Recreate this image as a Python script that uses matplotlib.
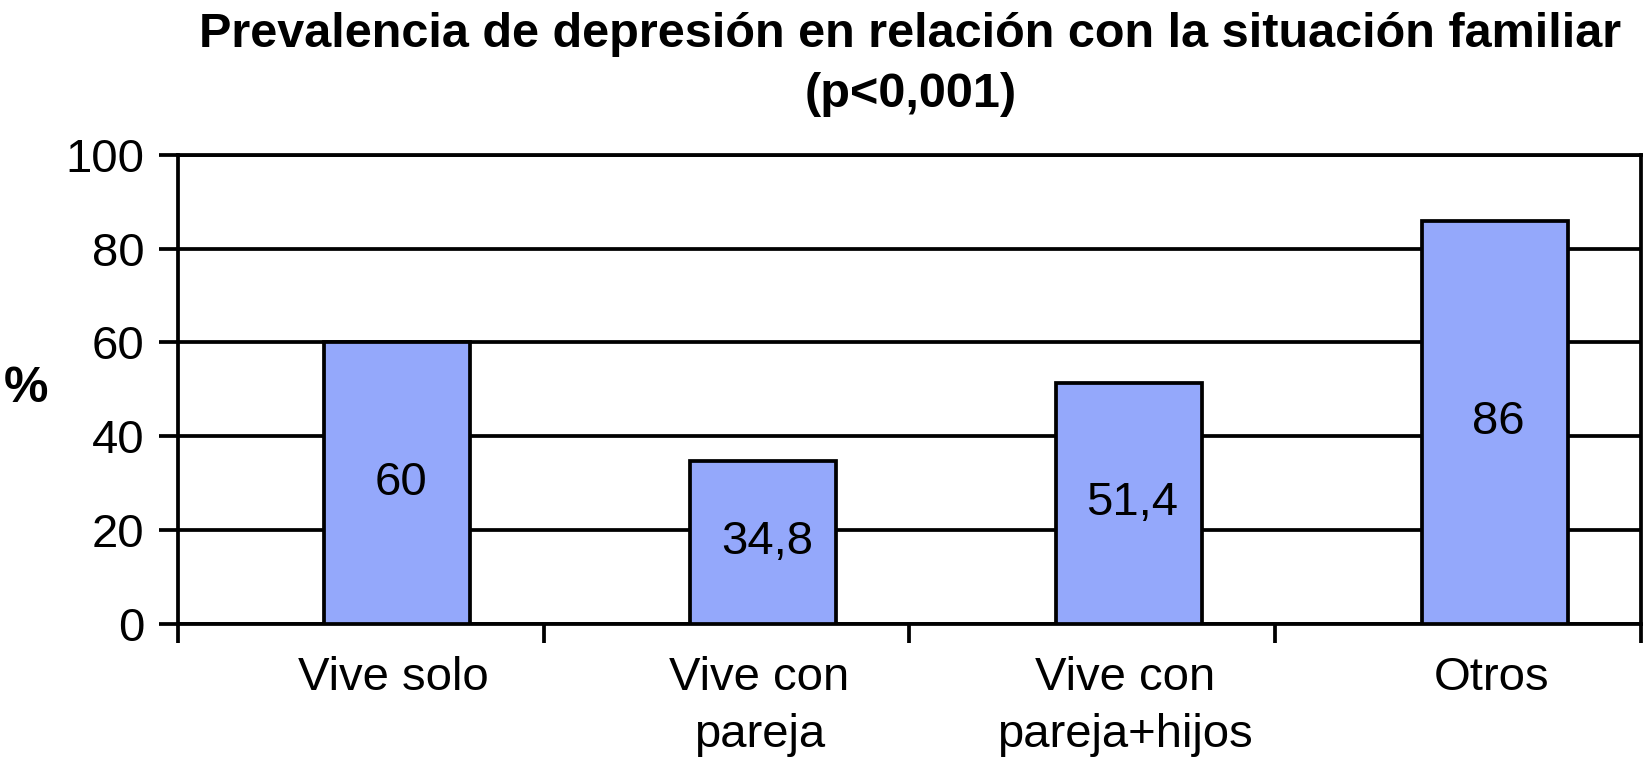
import numpy as np
import matplotlib
matplotlib.use('Agg')
import matplotlib.pyplot as plt

categories = ['Vive solo', 'Vive con\npareja', 'Vive con\npareja+hijos', 'Otros']
values = [60, 34.8, 51.4, 86]
value_labels = ['60', '34,8', '51,4', '86']
y_ticks = [0, 20, 40, 60, 80, 100]

plt.rcParams['font.family'] = ['Liberation Sans', 'DejaVu Sans']

fig = plt.figure(figsize=(16.46, 7.71), dpi=100)
ax = fig.add_axes([0.108, 0.191, 0.889, 0.608])

# bars sit a little right of the category centre, like the original
pos = np.arange(len(values)) + 0.5 + 0.10
ax.bar(pos, values, width=0.40, color='#94a8fb', edgecolor='black', linewidth=2.7, zorder=3)

for x, v, lab in zip(pos, values, value_labels):
    ax.text(x + 0.01, v / 2, lab, ha='center', va='center', fontsize=34, zorder=4)

ax.set_xlim(0, 4)
ax.set_ylim(0, 100)
ax.set_yticks(y_ticks)
ax.set_yticklabels([str(t) for t in y_ticks], fontsize=34)
ax.yaxis.grid(True, color='black', linewidth=2.7, zorder=0)
ax.tick_params(axis='y', length=14, width=2.7, pad=10)

# boundary ticks without labels, category labels at bar positions
ax.set_xticks(np.arange(5), minor=True)
ax.set_xticks(pos - 0.01)
ax.set_xticklabels(categories, fontsize=34, linespacing=1.4)
ax.tick_params(axis='x', which='major', length=0, pad=23)
ax.tick_params(axis='x', which='minor', length=14, width=2.7)

for s in ax.spines.values():
    s.set_linewidth(2.7)

fig.text(0.016, 0.5 * (0.191 + 0.799), '%', ha='center', va='center',
         fontsize=36, fontweight='bold')

fig.suptitle('Prevalencia de depresión en relación con la situación familiar\n(p<0,001)',
             x=0.553, y=0.985, va='top', fontsize=35, fontweight='bold', linespacing=1.45)

fig.savefig('out.png', dpi=100)
